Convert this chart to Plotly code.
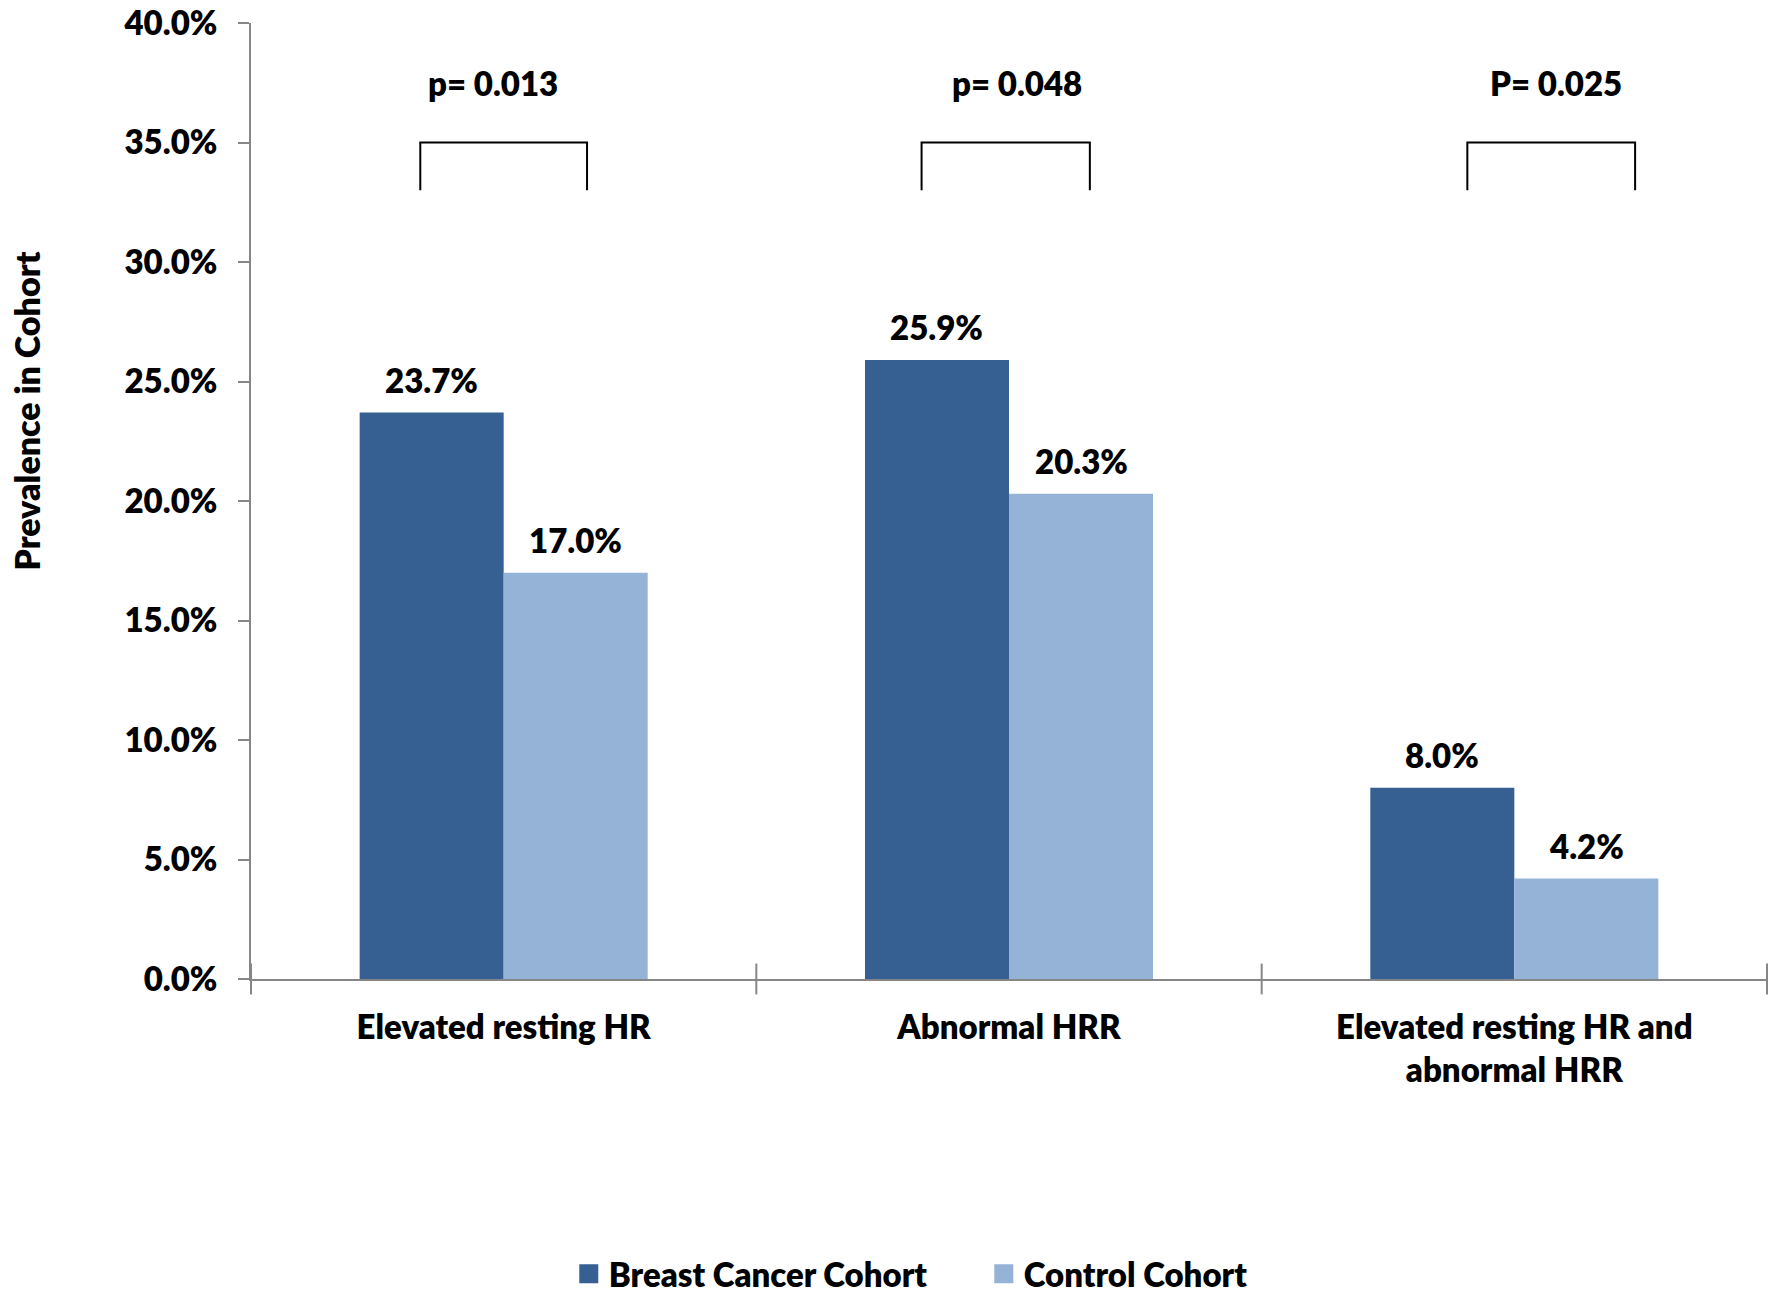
import plotly.graph_objects as go

# Prevalence (%) of each heart-rate finding by cohort
categories = ["Elevated resting HR", "Abnormal HRR", "Elevated resting HR and<br>abnormal HRR"]
breast_cancer = [23.7, 25.9, 8.0]
control = [17.0, 20.3, 4.2]
p_labels = ["p= 0.013", "p= 0.048", "P= 0.025"]
y_ticks = [0, 5, 10, 15, 20, 25, 30, 35, 40]

DARK = "#376092"
LIGHT = "#95B3D7"
AXIS = "#868686"
FONT = "Lato"
FS = 33
WEIGHT = 800

BARGAP = 0.43
bar_w = (1 - BARGAP) / 2          # width of one bar in category units
offsets = [-bar_w / 2, bar_w / 2]  # centre of each series within a group

# significance brackets: horizontal span relative to the group centre, and height
bracket_spans = [(-0.165, 0.165), (-0.173, 0.160), (-0.093, 0.239)]
bracket_low, bracket_high = 33.0, 35.0
p_label_y = 37.5
p_label_dx = [-0.022, 0.015, 0.082]

x_idx = list(range(len(categories)))


def bold_font(size=FS):
    return dict(family=FONT, size=size, color="black", weight=WEIGHT)


fig = go.Figure()
fig.add_trace(go.Bar(x=x_idx, y=breast_cancer, name="Breast Cancer Cohort",
                     marker=dict(color=DARK, line=dict(width=0)), showlegend=False))
fig.add_trace(go.Bar(x=x_idx, y=control, name="Control Cohort",
                     marker=dict(color=LIGHT, line=dict(width=0)), showlegend=False))

# legend entries with larger square swatches
for name, col in [("Breast Cancer Cohort", DARK), ("Control Cohort", LIGHT)]:
    fig.add_trace(go.Scatter(x=[None], y=[None], mode="markers", name=name,
                             marker=dict(symbol="square", size=20, color=col,
                                         line=dict(color=col, width=3))))

annotations = []
for series, off in [(breast_cancer, offsets[0]), (control, offsets[1])]:
    for i, v in enumerate(series):
        annotations.append(dict(x=i + off, y=v, xref="x", yref="y",
                                text=f"{v:.1f}%", showarrow=False,
                                yanchor="middle", yshift=33, font=bold_font()))

shapes = []
for i, ((l, r), lab, dx) in enumerate(zip(bracket_spans, p_labels, p_label_dx)):
    shapes.append(dict(type="path", xref="x", yref="y",
                       path=f"M {i + l} {bracket_low} L {i + l} {bracket_high} "
                            f"L {i + r} {bracket_high} L {i + r} {bracket_low}",
                       line=dict(color="black", width=2)))
    annotations.append(dict(x=i + dx, y=p_label_y, xref="x", yref="y", text=lab,
                            showarrow=False, yanchor="middle", font=bold_font()))

annotations.append(dict(x=-0.148, y=0.594, xref="paper", yref="paper",
                        text="Prevalence in Cohort", textangle=-90, showarrow=False,
                        xanchor="center", yanchor="middle", font=bold_font(34)))

fig.update_layout(
    width=1779, height=1301,
    margin=dict(l=251, r=12, t=23, b=322, autoexpand=False),
    paper_bgcolor="white", plot_bgcolor="white",
    barmode="group", bargap=BARGAP, bargroupgap=0,
    font=dict(family=FONT, size=FS, color="black"),
    showlegend=True,
    legend=dict(orientation="h", xref="container", yref="container",
                x=0.553, xanchor="center", y=0.021, yanchor="middle",
                entrywidthmode="pixels", entrywidth=370,
                font=bold_font(), itemsizing="trace", traceorder="normal",
                bgcolor="rgba(0,0,0,0)"),
    annotations=annotations, shapes=shapes,
)
fig.update_xaxes(type="linear", range=[-0.5, 2.5], tickmode="array",
                 tickvals=x_idx, ticktext=categories, ticks="", showgrid=False,
                 zeroline=False, showline=True, linecolor=AXIS, linewidth=2,
                 tickfont=bold_font(), ticklabelstandoff=18)
# boundary tick marks below the category axis
fig.add_trace(go.Scatter(x=[-0.5, 0.5, 1.5, 2.5], y=[0, 0, 0, 0], mode="markers",
                         marker=dict(symbol="line-ns", size=22, line=dict(color=AXIS, width=2)),
                         showlegend=False, hoverinfo="skip", cliponaxis=False))
fig.update_yaxes(range=[0, 40], tickmode="array", tickvals=y_ticks,
                 ticktext=[f"{t:.1f}%" for t in y_ticks], ticks="outside", ticklen=11,
                 tickcolor=AXIS, tickwidth=2, showgrid=False, zeroline=False,
                 showline=True, linecolor=AXIS, linewidth=2,
                 tickfont=bold_font(), ticklabelstandoff=14)

fig.write_html("out.html")
